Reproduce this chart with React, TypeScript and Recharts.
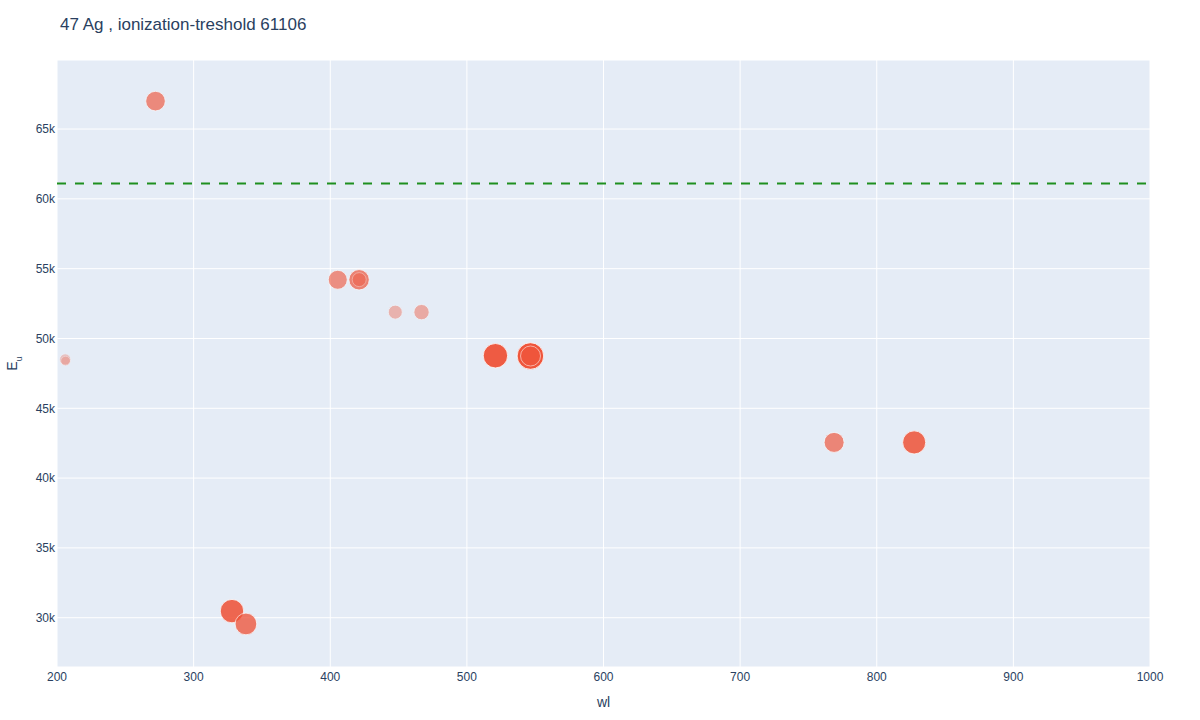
import {
  ScatterChart, Scatter, XAxis, YAxis, ZAxis, CartesianGrid, ReferenceLine,
} from "recharts";

// line list for Ag I: wavelength (nm), upper level energy (cm^-1), relative intensity
const wavelengths = [206.0, 206.3, 272.1, 328.07, 338.29, 405.5, 421.1, 421.2, 447.6, 466.8, 520.9, 546.5, 546.6, 768.8, 827.4];
const upperEnergies = [48500, 48380, 67000, 30473, 29552, 54204, 54204, 54214, 51887, 51887, 48764, 48744, 48744, 42556, 42556];
const intensities = [16, 12, 49, 70, 60, 46, 53, 25, 25, 30, 76, 90, 51, 51, 68];

const xTicks = [200, 300, 400, 500, 600, 700, 800, 900, 1000];
const yTicks = [30000, 35000, 40000, 45000, 50000, 55000, 60000, 65000];
const ionizationThreshold = 61106;
const title = "47 Ag , ionization-treshold 61106";

const points = wavelengths.map((wl, i) => ({
  wl,
  eu: upperEnergies[i],
  intensity: intensities[i],
}));

const FONT = '"Liberation Sans", Arial, sans-serif';
const INK = "#2a3f5f";

function Marker(props: any) {
  const { cx, cy, width, payload } = props;
  const r = width / 2;
  const opacity = 0.1 + 0.9 * Math.min(1, payload.intensity / 80);
  return (
    <circle
      cx={cx} cy={cy} r={r}
      fill="#EF553B" stroke="#ffffff" strokeWidth={1} strokeOpacity={0.8}
      opacity={opacity}
    />
  );
}

function YLabel(props: any) {
  const { viewBox } = props;
  const x = viewBox.x + 17;
  const y = viewBox.y + viewBox.height / 2;
  return (
    <text
      x={x} y={y} transform={`rotate(-90, ${x}, ${y})`}
      textAnchor="middle" fill={INK} fontFamily={FONT} fontSize={14}
    >
      E<tspan baselineShift="sub" fontSize={9}>u</tspan>
    </text>
  );
}

function XLabel(props: any) {
  const { viewBox } = props;
  return (
    <text
      x={viewBox.x + viewBox.width / 2} y={viewBox.y + 40}
      textAnchor="middle" fill={INK} fontFamily={FONT} fontSize={14}
    >
      wl
    </text>
  );
}

export default function App() {
  const tick = { fill: INK, fontSize: 12, fontFamily: FONT };
  return (
    <div style={{ position: "absolute", left: 0, top: 0, width: 1200, height: 720, background: "#fff" }}>
      <div
        style={{
          position: "absolute", left: 60, top: 15, fontFamily: FONT,
          fontSize: 17, color: INK, whiteSpace: "nowrap",
        }}
      >
        {title}
      </div>
      <ScatterChart width={1200} height={720} margin={{ top: 60, right: 50, bottom: 0, left: 0 }}>
        <CartesianGrid fill="#E5ECF6" fillOpacity={1} stroke="#ffffff" strokeWidth={1} />
        <XAxis
          type="number" dataKey="wl" domain={[200, 1000]} ticks={xTicks}
          allowDataOverflow height={53} axisLine={false} tickLine={false}
          tickSize={0} tickMargin={5} tick={tick} label={<XLabel />}
        />
        <YAxis
          type="number" dataKey="eu" domain={[26470, 69945]} ticks={yTicks}
          allowDataOverflow width={57} axisLine={false} tickLine={false}
          tickSize={0} tickMargin={2} tick={tick}
          tickFormatter={(v: number) => `${v / 1000}k`}
          label={<YLabel />}
        />
        <ZAxis type="number" dataKey="intensity" domain={[0, 100]} range={[0, 616]} />
        <ReferenceLine
          y={ionizationThreshold} stroke="#1f8f1f" strokeWidth={2}
          strokeDasharray="9 9"
        />
        <Scatter data={points} shape={<Marker />} isAnimationActive={false} />
      </ScatterChart>
    </div>
  );
}
